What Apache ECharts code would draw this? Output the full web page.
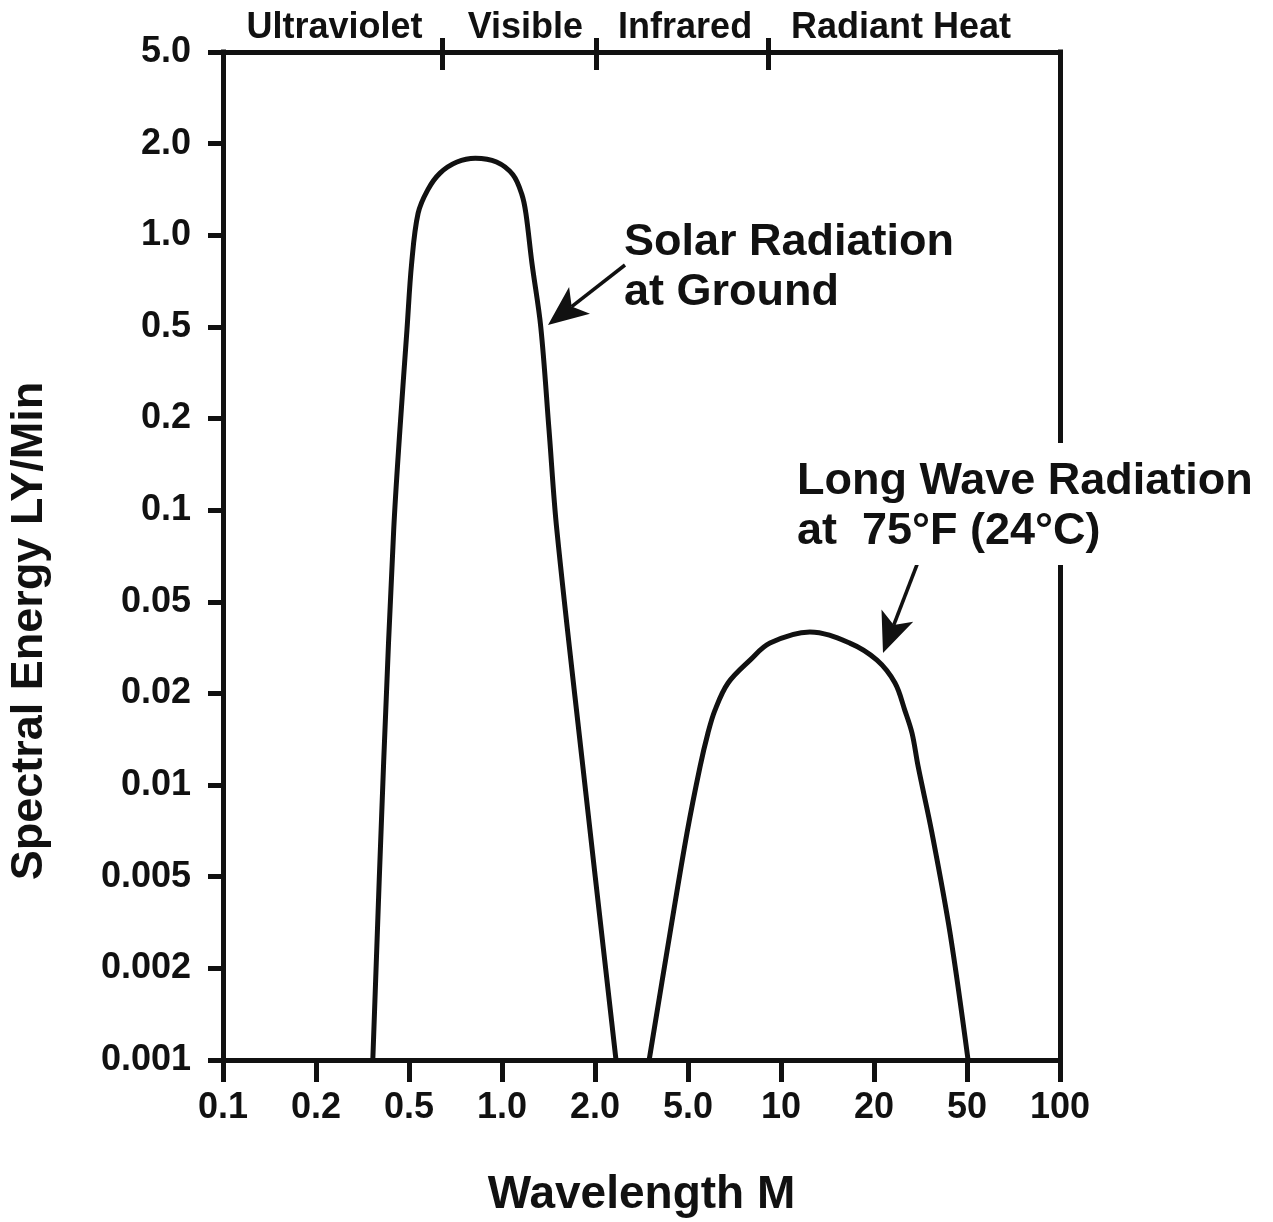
<!DOCTYPE html>
<html>
<head>
<meta charset="utf-8">
<title>Spectral Energy</title>
<script src="https://cdn.jsdelivr.net/npm/echarts@6/dist/echarts.min.js"></script>
<style>
  html, body { margin: 0; background: #fff; }
  #chart { width: 1273px; height: 1222px; }
</style>
</head>
<body>
<div id="chart"></div>
<script>
// both axes are 1-2-5 steps, each step drawn the same width
const xTicks = [0.1, 0.2, 0.5, 1.0, 2.0, 5.0, 10, 20, 50, 100]
const xTickLabels = ['0.1', '0.2', '0.5', '1.0', '2.0', '5.0', '10', '20', '50', '100']
const yTicks = [0.001, 0.002, 0.005, 0.01, 0.02, 0.05, 0.1, 0.2, 0.5, 1.0, 2.0, 5.0]
const yTickLabels = ['0.001', '0.002', '0.005', '0.01', '0.02', '0.05', '0.1', '0.2', '0.5', '1.0', '2.0', '5.0']

// bands along the top edge
const bandNames = ['Ultraviolet', 'Visible', 'Infrared', 'Radiant Heat']
const bandLabelAt = [0.24, 1.19, 4.86, 26.1]
const bandBounds = [0.64, 2.02, 9.1]

// solar radiation at ground
const solarWavelength = [0.35, 0.39, 0.43, 0.457, 0.49, 0.51, 0.535, 0.575, 0.63, 0.715, 0.82,
  0.96, 1.085, 1.16, 1.195, 1.25, 1.335, 1.42, 1.505, 1.815, 2.46]
const solarEnergy = [0.001, 0.0122, 0.086, 0.183, 0.485, 0.81, 1.18, 1.41, 1.6, 1.74, 1.79,
  1.74, 1.58, 1.36, 1.18, 0.81, 0.5, 0.183, 0.086, 0.0122, 0.001]

// long wave radiation at 75F
const longWavelength = [3.41, 4.19, 4.95, 5.47, 5.8, 6.11, 6.74, 7.94, 9.21, 12.4,
  16.7, 20.6, 24.6, 27.1, 29.1, 30.9, 35.4, 42.3, 50.4]
const longEnergy = [0.001, 0.00285, 0.00696, 0.0115, 0.0148, 0.0176, 0.0222, 0.0279, 0.0331, 0.037,
  0.0331, 0.0279, 0.0222, 0.0176, 0.0148, 0.0115, 0.00696, 0.00285, 0.001]

const ink = '#111'
const font = "'Liberation Sans', Arial, Helvetica, sans-serif"

// value -> position in tick steps (log inside each step)
function toStep(v, ticks) {
  for (let i = 0; i < ticks.length - 1; i++) {
    if (v <= ticks[i + 1] || i === ticks.length - 2) {
      return i + Math.log(v / ticks[i]) / Math.log(ticks[i + 1] / ticks[i])
    }
  }
}

const pairs = (xs, ys) => xs.map((x, i) => [toStep(x, xTicks), toStep(ys[i], yTicks)])

function arrow(tail, tip) {
  const dx = tip[0] - tail[0]
  const dy = tip[1] - tail[1]
  const len = Math.hypot(dx, dy)
  const ux = dx / len
  const uy = dy / len
  const nx = -uy
  const ny = ux
  const bx = tip[0] - ux * 40
  const by = tip[1] - uy * 40
  return [
    {
      type: 'line',
      z: 50,
      shape: { x1: tail[0], y1: tail[1], x2: bx + ux * 10, y2: by + uy * 10 },
      style: { stroke: ink, lineWidth: 3.5 }
    },
    {
      type: 'polygon',
      z: 50,
      shape: {
        points: [tip, [bx + nx * 17, by + ny * 17], [tip[0] - ux * 30, tip[1] - uy * 30], [bx - nx * 17, by - ny * 17]]
      },
      style: { fill: ink }
    }
  ]
}

const axisLineStyle = { color: ink, width: 5, cap: 'square' }
const labelStyle = { color: ink, fontFamily: font, fontWeight: 'bold', fontSize: 36 }

const chart = echarts.init(document.getElementById('chart'))
chart.setOption({
  backgroundColor: '#fff',
  animation: false,
  grid: { left: 223, right: 213, top: 52, bottom: 162, containLabel: false, outerBoundsMode: 'none' },
  xAxis: [
    {
      type: 'value',
      position: 'bottom',
      min: 0,
      max: xTicks.length - 1,
      interval: 1,
      axisLine: { onZero: false, lineStyle: axisLineStyle },
      axisTick: { length: 22, lineStyle: { color: ink, width: 5 } },
      axisLabel: Object.assign({ margin: 30, formatter: v => xTickLabels[Math.round(v)] }, labelStyle),
      splitLine: { show: false },
      name: 'Wavelength M',
      nameLocation: 'middle',
      nameGap: 112,
      nameTextStyle: { color: ink, fontFamily: font, fontWeight: 'bold', fontSize: 46 }
    },
    {
      type: 'value',
      position: 'top',
      min: 0,
      max: xTicks.length - 1,
      axisLine: { onZero: false, lineStyle: axisLineStyle },
      axisTick: {
        customValues: bandBounds.map(v => toStep(v, xTicks)),
        length: 14,
        lineStyle: { color: ink, width: 5 }
      },
      axisLabel: Object.assign({}, labelStyle, {
        customValues: bandLabelAt.map(v => toStep(v, xTicks)),
        margin: 6,
        formatter: v => {
          const steps = bandLabelAt.map(b => toStep(b, xTicks))
          let best = 0
          steps.forEach((s, i) => { if (Math.abs(s - v) < Math.abs(steps[best] - v)) best = i })
          return bandNames[best]
        }
      }),
      splitLine: { show: false }
    },
    {
      type: 'value',
      position: 'top',
      min: 0,
      max: xTicks.length - 1,
      axisLine: { show: false, onZero: false },
      axisTick: {
        inside: true,
        customValues: bandBounds.map(v => toStep(v, xTicks)),
        length: 18,
        lineStyle: { color: ink, width: 5 }
      },
      axisLabel: { show: false },
      splitLine: { show: false }
    }
  ],
  yAxis: [
    {
      type: 'value',
      position: 'left',
      min: 0,
      max: yTicks.length - 1,
      interval: 1,
      axisLine: { onZero: false, lineStyle: axisLineStyle },
      axisTick: { length: 15, lineStyle: { color: ink, width: 5 } },
      axisLabel: Object.assign({ margin: 32, formatter: v => yTickLabels[Math.round(v)] }, labelStyle),
      splitLine: { show: false }
    },
    {
      type: 'value',
      position: 'right',
      min: 0,
      max: yTicks.length - 1,
      axisLine: { onZero: false, lineStyle: axisLineStyle },
      axisTick: { show: false },
      axisLabel: { show: false },
      splitLine: { show: false }
    }
  ],
  series: [
    {
      name: 'Solar Radiation at Ground',
      type: 'line',
      data: pairs(solarWavelength, solarEnergy),
      showSymbol: false,
      smooth: 0.35,
      lineStyle: { color: ink, width: 5 }
    },
    {
      name: 'Long Wave Radiation at 75°F (24°C)',
      type: 'line',
      data: pairs(longWavelength, longEnergy),
      showSymbol: false,
      smooth: 0.35,
      lineStyle: { color: ink, width: 5 }
    }
  ],
  graphic: [
    {
      type: 'text',
      x: 30,
      y: 631,
      rotation: Math.PI / 2,
      style: {
        text: 'Spectral Energy LY/Min',
        fill: ink, font: 'bold 45px ' + font,
        align: 'center', verticalAlign: 'middle'
      }
    },
    {
      type: 'text',
      x: 624,
      y: 218,
      style: {
        text: 'Solar Radiation\nat Ground',
        fill: ink, font: 'bold 45px ' + font, lineHeight: 50,
        align: 'left', verticalAlign: 'top'
      }
    },
    {
      type: 'text',
      x: 793,
      y: 443,
      z: 100,
      style: {
        text: 'Long Wave Radiation\nat  75°F (24°C)',
        fill: ink, font: 'bold 45px ' + font, lineHeight: 50,
        align: 'left', verticalAlign: 'top',
        backgroundColor: '#fff', padding: [14, 4, 8, 4]
      }
    },
    ...arrow([625, 265], [548, 325]),
    ...arrow([918, 562], [883, 653])
  ]
})
</script>
</body>
</html>
